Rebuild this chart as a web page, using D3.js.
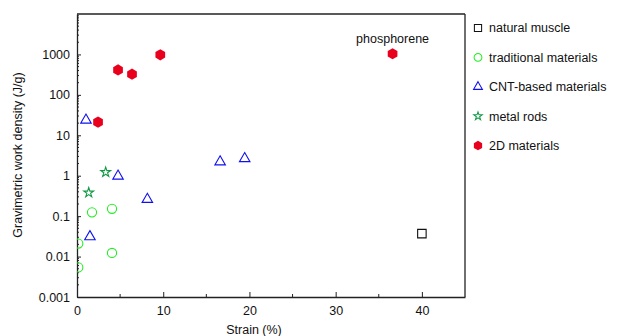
<!DOCTYPE html>
<html>
<head>
<meta charset="utf-8">
<script src="https://cdn.jsdelivr.net/npm/d3@7"></script>
<style>
  body { margin: 0; background: #fff; }
  svg { font-family: "Liberation Sans", Arial, sans-serif; }
</style>
</head>
<body>
<div id="chart"></div>
<script>
// series data: [strain %, work density J/g]
const naturalMuscle = [[40, 0.037]];
const traditional = [[0.15, 0.021], [0.15, 0.0054], [1.74, 0.124], [4.06, 0.152], [4.06, 0.0123]];
const cntBased = [[1.04, 23.8], [1.5, 0.031], [4.76, 0.98], [8.16, 0.26], [16.6, 2.2], [19.45, 2.65]];
const metalRods = [[1.36, 0.38], [3.33, 1.22]];
const twoD = [[2.44, 21.2], [4.76, 413], [6.38, 324], [9.66, 980], [36.6, 1040]];

const xTicks = [0, 10, 20, 30, 40];
const xMinor = [5, 15, 25, 35];
const yTicks = [0.001, 0.01, 0.1, 1, 10, 100, 1000];
const yTickLabels = ["0.001", "0.01", "0.1", "1", "10", "100", "1000"];

const legendNames = ["natural muscle", "traditional materials", "CNT-based materials", "metal rods", "2D materials"];

const W = 618, H = 336;
const margin = { top: 14, right: 153, bottom: 39, left: 77 };
const width = W - margin.left - margin.right;
const height = H - margin.top - margin.bottom;

const svg = d3.select("#chart").append("svg")
    .attr("width", W)
    .attr("height", H);

const g = svg.append("g")
    .attr("transform", `translate(${margin.left},${margin.top})`);

const x = d3.scaleLinear().domain([0, 45]).range([0, width]);
const y = d3.scaleLog().domain([0.001, 10000]).range([height, 0]);

svg.append("clipPath").attr("id", "clip")
    .append("rect").attr("width", width).attr("height", height);

// axes, ticks pointing inside
const axisColor = "#222";
const xAxis = g.append("g")
    .attr("transform", `translate(0,${height})`)
    .call(d3.axisBottom(x).tickValues(xTicks).tickSizeInner(-5).tickSizeOuter(0).tickPadding(9));
g.append("g")
    .selectAll("line")
    .data(xMinor)
    .join("line")
    .attr("x1", d => x(d)).attr("x2", d => x(d))
    .attr("y1", height).attr("y2", height - 3)
    .attr("stroke", axisColor);

const yAxis = g.append("g")
    .call(d3.axisLeft(y).tickValues(yTicks).tickFormat((d, i) => yTickLabels[i])
        .tickSizeInner(-4).tickSizeOuter(0).tickPadding(7));

// minor log ticks
const yMinor = [];
yTicks.forEach(dec => {
    for (let k = 2; k <= 9; k++) yMinor.push(dec * k);
});
g.append("g")
    .selectAll("line")
    .data(yMinor)
    .join("line")
    .attr("x1", 0).attr("x2", 2)
    .attr("y1", d => y(d)).attr("y2", d => y(d))
    .attr("stroke", axisColor);

[xAxis, yAxis].forEach(ax => {
    ax.select(".domain").attr("stroke", axisColor).attr("stroke-width", 1.3);
    ax.selectAll(".tick line").attr("stroke", axisColor);
    ax.selectAll(".tick text").attr("font-size", "12.5px").attr("fill", "#111")
        .attr("font-family", "Liberation Sans, Arial, sans-serif");
});

// top and right frame
g.append("line").attr("x1", 0).attr("x2", width).attr("y1", 0).attr("y2", 0)
    .attr("stroke", axisColor).attr("stroke-width", 1.3);
g.append("line").attr("x1", width).attr("x2", width).attr("y1", 0).attr("y2", height)
    .attr("stroke", axisColor).attr("stroke-width", 1.3);

// axis titles
svg.append("text")
    .attr("transform", `translate(22,${155}) rotate(-90)`)
    .attr("text-anchor", "middle")
    .attr("font-size", "12.5px").attr("fill", "#111")
    .text("Gravimetric work density (J/g)");
svg.append("text")
    .attr("x", 254).attr("y", 334)
    .attr("text-anchor", "middle")
    .attr("font-size", "12.5px").attr("fill", "#111")
    .text("Strain (%)");

// marker shapes
const symSquare = d3.symbol().type(d3.symbolSquare).size(72)();
const symCircle = d3.symbol().type(d3.symbolCircle).size(66)();
const symTriangle = d3.symbol().type(d3.symbolTriangle).size(48)();
const symStar = d3.symbol().type(d3.symbolStar).size(30)();
const hexPath = (() => {
    const r = 5.6;
    const pts = d3.range(6).map(i => {
        const a = Math.PI / 6 + i * Math.PI / 3;
        return [r * Math.cos(a), r * Math.sin(a)];
    });
    return "M" + pts.map(p => p.join(",")).join("L") + "Z";
})();

const series = [
    { data: naturalMuscle, path: symSquare, fill: "none", stroke: "#111" },
    { data: traditional, path: symCircle, fill: "none", stroke: "#22ee22" },
    { data: cntBased, path: symTriangle, fill: "none", stroke: "#1111ee" },
    { data: metalRods, path: symStar, fill: "none", stroke: "#119944" },
    { data: twoD, path: hexPath, fill: "#e8001c", stroke: "none" }
];

const plot = g.append("g").attr("clip-path", "url(#clip)");
series.forEach(s => {
    plot.append("g")
        .selectAll("path")
        .data(s.data)
        .join("path")
        .attr("d", s.path)
        .attr("transform", d => `translate(${x(d[0])},${y(d[1])})`)
        .attr("fill", s.fill)
        .attr("stroke", s.stroke)
        .attr("stroke-width", 1.1);
});

// phosphorene label
const phos = twoD[twoD.length - 1];
g.append("text")
    .attr("x", x(phos[0]))
    .attr("y", y(phos[1]) - 11)
    .attr("text-anchor", "middle")
    .attr("font-size", "12.5px").attr("fill", "#111")
    .text("phosphorene");

// legend
const legend = svg.append("g").attr("transform", "translate(478,28)");
const rows = legend.selectAll("g")
    .data(series)
    .join("g")
    .attr("transform", (d, i) => `translate(0,${i * 29.4})`);
rows.append("path")
    .attr("d", d => d.path)
    .attr("transform", "scale(0.85)")
    .attr("fill", d => d.fill)
    .attr("stroke", d => d.stroke)
    .attr("stroke-width", 1.2);
rows.append("text")
    .attr("x", 11).attr("dy", "0.35em")
    .attr("font-size", "12.5px").attr("fill", "#111")
    .text((d, i) => legendNames[i]);
</script>
</body>
</html>
